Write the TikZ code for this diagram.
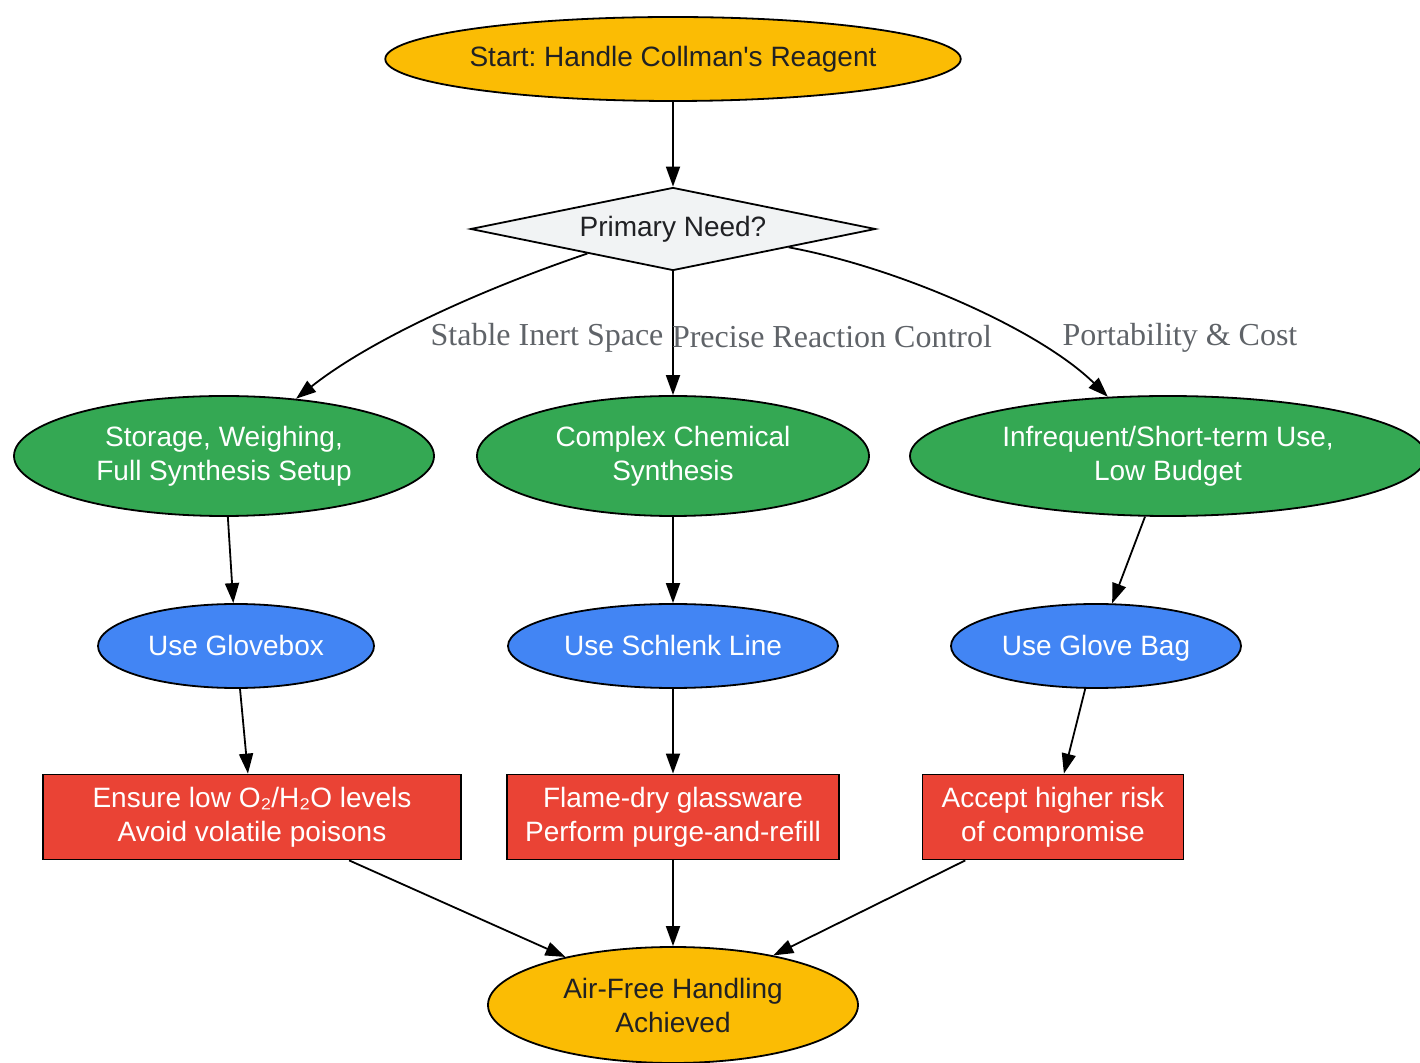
\documentclass[tikz,border=0pt]{standalone}
\usepackage{fontspec}
\setmainfont{Liberation Serif}
\newfontfamily\boxfont{Liberation Sans}
\usetikzlibrary{arrows.meta,shapes.geometric}
\definecolor{gyellow}{HTML}{FBBC04}
\definecolor{glight}{HTML}{F1F3F4}
\definecolor{ggreen}{HTML}{34A853}
\definecolor{gblue}{HTML}{4285F4}
\definecolor{gred}{HTML}{EA4335}
\definecolor{gdark}{HTML}{202124}
\definecolor{ggray}{HTML}{5F6368}
\frenchspacing

\begin{document}
\begin{tikzpicture}[x=0.5pt,y=-0.5pt,
    base/.style={draw=black,line width=0.9pt,inner sep=0pt,align=center,
      font=\boxfont\fontsize{14}{17}\selectfont},
    terminal/.style={base,ellipse,fill=gyellow,text=gdark},
    decision/.style={base,diamond,shape aspect=4.9,fill=glight,text=gdark},
    neednode/.style={base,ellipse,fill=ggreen,text=white,minimum height=60pt},
    method/.style={base,ellipse,fill=gblue,text=white,minimum height=42pt,
      text height=10pt,text depth=0pt},
    action/.style={base,rectangle,fill=gred,text=white,minimum height=42.5pt},
    edge/.style={-{Triangle[length=10pt,width=7pt]},line width=0.9pt},
    elabel/.style={font=\fontsize{16}{19}\selectfont,text=ggray}]

  \useasboundingbox (0,0) rectangle (1420,1063);

  % ---- Start and decision ------------------------------------
  \node[terminal,minimum width=285pt,minimum height=42pt] (start) at (673,59)
    {Start: Handle Collman's Reagent};
  \node[decision,minimum width=202.5pt,minimum height=41.5pt] (need) at (673,229)
    {Primary Need?};

  % ---- Needs (green) -----------------------------------------
  \node[neednode,minimum width=210pt] (stor) at (224,456)
    {Storage, Weighing,\\Full Synthesis Setup};
  \node[neednode,minimum width=196pt] (synth) at (673,456)
    {Complex Chemical\\Synthesis};
  \node[neednode,minimum width=258pt] (infr) at (1168,456)
    {Infrequent/Short-term Use,\\Low Budget};

  % ---- Methods (blue) ----------------------------------------
  \node[method,minimum width=138pt] (glovebox) at (236,646) {Use Glovebox};
  \node[method,minimum width=165pt] (schlenk) at (673,646) {Use Schlenk Line};
  \node[method,minimum width=145pt] (glovebag) at (1096,646) {Use Glove Bag};

  % ---- Actions (red) -----------------------------------------
  \node[action,minimum width=209pt] (ensure) at (252,817)
    {Ensure low O₂/H₂O levels\\Avoid volatile poisons};
  \node[action,minimum width=166pt] (flame) at (673,817)
    {Flame-dry glassware\\Perform purge-and-refill};
  \node[action,minimum width=130.5pt] (accept) at (1053,817)
    {Accept higher risk\\of compromise};

  % ---- End ---------------------------------------------------
  \node[terminal,minimum width=185pt,minimum height=58pt] (done) at (673,1005)
    {Air-Free Handling\\Achieved};

  % ---- Connectors --------------------------------------------
  \draw[edge] (start) -- (need);
  \draw[edge] (need.196) .. controls (480,290) and (370,340) .. (stor)
    node[elabel] at (547,338) {Stable Inert Space};
  \draw[edge] (need) -- (synth)
    node[elabel] at (832,337) {Precise Reaction Control};
  \draw[edge] (need.-9) .. controls (900,268) and (1040,330) .. (infr)
    node[elabel] at (1180,338) {Portability \& Cost};

  \draw[edge] (stor) -- (glovebox);
  \draw[edge] (synth) -- (schlenk);
  \draw[edge] (infr) -- (glovebag);

  \draw[edge] (glovebox) -- (ensure);
  \draw[edge] (schlenk) -- (flame);
  \draw[edge] (glovebag) -- (accept);

  \draw[edge] (ensure) -- (done);
  \draw[edge] (flame) -- (done);
  \draw[edge] (accept) -- (done);

\end{tikzpicture}
\end{document}
